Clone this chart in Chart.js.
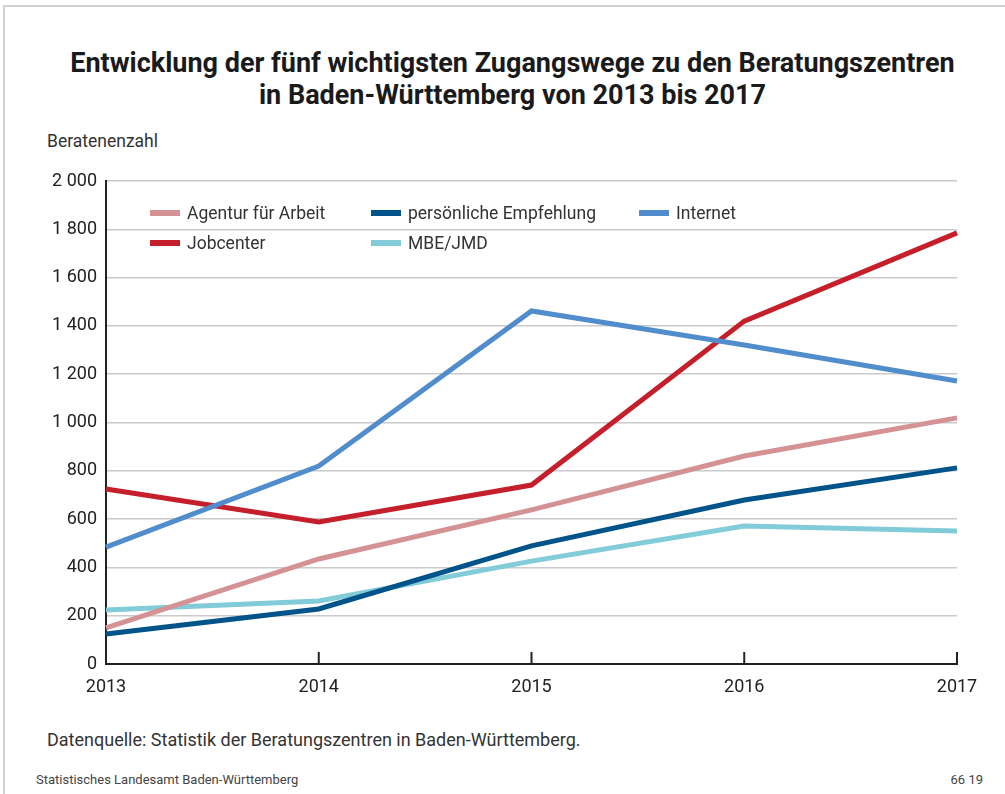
<!DOCTYPE html>
<html lang="de">
<head>
<meta charset="utf-8">
<title>Zugangswege Beratungszentren</title>
<script src="https://cdn.jsdelivr.net/npm/chart.js@4.4.1/dist/chart.umd.min.js"></script>
<style>
  body { margin: 0; background: #fff; font-family: Roboto, "Liberation Sans", sans-serif; color: #222; }
  #page { position: relative; width: 1005px; height: 794px; overflow: hidden; }
  #frame { position: absolute; left: 3px; top: 5px; right: -10px; bottom: -10px; border-left: 2px solid #d0d0d0; border-top: 2px solid #d0d0d0; }
  h1 { position: absolute; left: 0; width: 1025px; top: 47px; margin: 0; text-align: center; font-size: 27px; line-height: 32px; font-weight: 700; color: #1a1a1a; }
  .unit { position: absolute; left: 47px; top: 131px; font-size: 17.5px; color: #333; }
  .source { position: absolute; left: 47px; top: 729px; font-size: 18px; color: #333; }
  .foot { position: absolute; top: 772px; font-size: 13px; color: #444; }
  #chart-box { position: absolute; left: 0; top: 160px; width: 1005px; height: 550px; }
  #legend { position: absolute; left: 150px; top: 201px; display: grid; grid-template-columns: 221px 268px 200px; row-gap: 6px; }
  .item { display: flex; align-items: center; font-size: 17.5px; color: #333; height: 24px; white-space: nowrap; }
  .swatch { width: 30px; height: 6px; margin-right: 7px; flex: none; }
</style>
</head>
<body>
<div id="page">
  <div id="frame"></div>
  <h1>Entwicklung der fünf wichtigsten Zugangswege zu den Beratungszentren<br>in Baden-Württemberg von 2013 bis 2017</h1>
  <div class="unit">Beratenenzahl</div>
  <div id="chart-box"><canvas id="chart"></canvas></div>
  <div id="legend"></div>
  <div class="source">Datenquelle: Statistik der Beratungszentren in Baden-Württemberg.</div>
  <div class="foot" style="left:36px">Statistisches Landesamt Baden-Württemberg</div>
  <div class="foot" style="right:22px">66 19</div>
</div>
<script>
// ====== DATEN ======
const jahre = ["2013", "2014", "2015", "2016", "2017"];
const agentur = [150, 435, 638, 861, 1019];
const empfehlung = [124, 228, 489, 679, 812];
const internet = [484, 820, 1462, 1321, 1172];
const jobcenter = [725, 588, 741, 1420, 1785];
const mbe = [224, 261, 426, 571, 551];

// legend order = order in the picture
const serien = [
  { label: "Agentur für Arbeit", data: agentur, color: "#d59294" },
  { label: "persönliche Empfehlung", data: empfehlung, color: "#00548a" },
  { label: "Internet", data: internet, color: "#518dcd" },
  { label: "Jobcenter", data: jobcenter, color: "#c41f2a" },
  { label: "MBE/JMD", data: mbe, color: "#82cbd8" }
];

// ====== LEGENDE ======
const legend = document.getElementById("legend");
serien.forEach(s => {
  const el = document.createElement("div");
  el.className = "item";
  el.innerHTML = `<span class="swatch" style="background:${s.color}"></span>${s.label}`;
  legend.appendChild(el);
});

const fmt = v => String(v).replace(/\B(?=(\d{3})+(?!\d))/g, " ");

// small upward tick marks on the x axis
const tickMarks = {
  id: "tickMarks",
  afterDraw(chart) {
    const { ctx, scales: { x }, chartArea } = chart;
    ctx.save();
    ctx.strokeStyle = "#222";
    ctx.lineWidth = 2;
    x.ticks.forEach((t, i) => {
      const px = x.getPixelForTick(i);
      ctx.beginPath();
      ctx.moveTo(px, chartArea.bottom);
      ctx.lineTo(px, chartArea.bottom - 12);
      ctx.stroke();
    });
    ctx.restore();
  }
};

// ====== GRAFIK ======
new Chart(document.getElementById("chart"), {
  type: "line",
  data: {
    labels: jahre,
    datasets: serien.map(s => ({
      label: s.label,
      data: s.data,
      borderColor: s.color,
      backgroundColor: s.color,
      borderWidth: 5,
      tension: 0,
      pointRadius: 0,
      borderJoinStyle: "miter",
      clip: false
    }))
  },
  plugins: [tickMarks],
  options: {
    responsive: true,
    maintainAspectRatio: false,
    animation: false,
    layout: { padding: { top: 21, right: 48, left: 0, bottom: 0 } },
    plugins: { legend: { display: false }, tooltip: { enabled: false } },
    scales: {
      x: {
        offset: false,
        grid: { display: false, drawTicks: false },
        border: { color: "#222", width: 2 },
        ticks: { color: "#222", font: { family: "Roboto", size: 18 }, padding: 13, maxRotation: 0 },
        afterFit: s => { s.height = 46; }
      },
      y: {
        min: 0,
        max: 2000,
        grid: { color: "#cacaca", lineWidth: 1.5, drawTicks: false },
        border: { color: "#222", width: 2 },
        ticks: { stepSize: 200, color: "#222", font: { family: "Roboto", size: 18 }, padding: 9, callback: v => fmt(v) },
        afterFit: s => { s.width = 106; }
      }
    }
  }
});
</script>
</body>
</html>
